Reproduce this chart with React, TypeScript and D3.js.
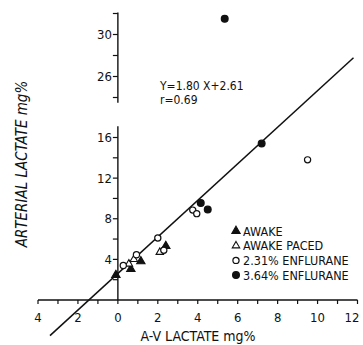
import * as d3 from "d3";

const W = 363;
const H = 345;

// data (A-V lactate, arterial lactate), mg%
const awake: [number, number][] = [[-0.1, 2.45], [0.65, 3.05], [1.15, 3.8], [2.4, 5.3]];
const awakePaced: [number, number][] = [[0.55, 3.55], [0.8, 4.0], [2.1, 4.7]];
const enflurane231: [number, number][] = [[0.27, 3.4], [0.93, 4.45], [2.0, 6.1], [2.3, 4.9], [3.75, 8.85], [3.95, 8.5], [9.5, 13.8]];
const enflurane364: [number, number][] = [[4.15, 9.55], [4.5, 8.9], [7.2, 15.4], [5.35, 31.5]];

const seriesNames = ["AWAKE", "AWAKE PACED", "2.31% ENFLURANE", "3.64% ENFLURANE"];
const seriesShapes = ["triangle", "triangle", "circle", "circle"];
const seriesFilled = [true, false, false, true];
const seriesData = [awake, awakePaced, enflurane231, enflurane364];

const fit = { slope: 1.8, intercept: 2.61, r: 0.69 };
const fitRange = [-3.4, 11.8];

const xTicks = d3.range(-4, 13, 1);
const xLabels = [-4, -2, 0, 2, 4, 6, 8, 10, 12];
const yLowTicks = [2, 4, 6, 8, 10, 12, 14, 16];
const yLowLabels = [4, 8, 12, 16];
const yHighTicks = [24, 26, 28, 30, 32];
const yHighLabels = [26, 30];

const font = "'Liberation Sans Narrow', 'DejaVu Sans Condensed', 'Liberation Sans', sans-serif";
const ink = "#111";

export default function App() {
  const x = d3.scaleLinear().domain([-4, 12]).range([38, 357.5]);
  // broken y axis: lower part 0-17, upper part 23.5-32
  const yLow = d3.scaleLinear().domain([0, 16]).range([300, 137.5]);
  const yHigh = d3.scaleLinear().domain([24, 32]).range([97.5, 13.5]);
  const yPos = (v: number) => (v > 20 ? yHigh(v) : yLow(v));

  const x0 = x(0);
  const tri = d3.symbol(d3.symbolTriangle, 30)()!;
  const triSmall = d3.symbol(d3.symbolTriangle, 24)()!;

  const fitLine = d3
    .line<number>()
    .x((d) => x(d))
    .y((d) => yLow(fit.slope * d + fit.intercept));

  const marker = (i: number, key: string, cx: number, cy: number) =>
    seriesShapes[i] === "triangle" ? (
      <path
        key={key}
        d={seriesFilled[i] ? tri : triSmall}
        transform={`translate(${cx},${cy})`}
        fill={seriesFilled[i] ? ink : "#fff"}
        stroke={ink}
        strokeWidth={1.1}
      />
    ) : (
      <circle
        key={key}
        cx={cx}
        cy={cy}
        r={seriesFilled[i] ? 3.4 : 3.1}
        fill={seriesFilled[i] ? ink : "#fff"}
        stroke={ink}
        strokeWidth={1.2}
      />
    );

  return (
    <div style={{ position: "absolute", left: 0, top: 0 }}>
      <svg width={W} height={H} style={{ display: "block", background: "#fff" }} fontFamily={font}>
        {/* x axis */}
        <line x1={x(-4)} x2={x(12)} y1={yLow(0)} y2={yLow(0)} stroke={ink} strokeWidth={1.4} />
        {xTicks.map((t) => (
          <line key={"xt" + t} x1={x(t)} x2={x(t)} y1={yLow(0)} y2={yLow(0) + 4} stroke={ink} strokeWidth={1.2} />
        ))}
        {xLabels.map((t) => (
          <text key={"xl" + t} x={Math.min(x(t), 352)} y={322} fontSize={13} textAnchor="middle" fill={ink}>
            {Math.abs(t)}
          </text>
        ))}
        <text x={198} y={341} fontSize={14} textAnchor="middle" fill={ink}>
          A-V LACTATE mg%
        </text>

        {/* lower y axis */}
        <line x1={x0} x2={x0} y1={yLow(0)} y2={yLow(17.1)} stroke={ink} strokeWidth={1.4} />
        {yLowTicks.map((t) => (
          <line key={"ylt" + t} x1={x0 - 5} x2={x0} y1={yLow(t)} y2={yLow(t)} stroke={ink} strokeWidth={1.2} />
        ))}
        {yLowLabels.map((t) => (
          <text key={"yll" + t} x={x0 - 6} y={yLow(t) + 4.5} fontSize={13} textAnchor="end" fill={ink}>
            {t}
          </text>
        ))}

        {/* upper y axis */}
        <line x1={x0} x2={x0} y1={yHigh(23.5)} y2={yHigh(32.1)} stroke={ink} strokeWidth={1.4} />
        {yHighTicks.map((t) => (
          <line key={"yht" + t} x1={x0 - 5} x2={x0} y1={yHigh(t)} y2={yHigh(t)} stroke={ink} strokeWidth={1.2} />
        ))}
        {yHighLabels.map((t) => (
          <text key={"yhl" + t} x={x0 - 6} y={yHigh(t) + 4.5} fontSize={13} textAnchor="end" fill={ink}>
            {t}
          </text>
        ))}

        <text
          transform={`translate(27,164) rotate(-90)`}
          fontSize={15}
          fontStyle="italic"
          textAnchor="middle"
          fill={ink}
        >
          ARTERIAL LACTATE mg%
        </text>

        {/* regression line */}
        <path d={fitLine(fitRange) ?? ""} fill="none" stroke={ink} strokeWidth={1.5} />
        <text x={160} y={90} fontSize={12} fill={ink}>
          {`Y=${fit.slope.toFixed(2)} X+${fit.intercept.toFixed(2)}`}
        </text>
        <text x={160} y={104} fontSize={12} fill={ink}>
          {`r=${fit.r.toFixed(2)}`}
        </text>

        {/* points */}
        {seriesData.map((pts, i) =>
          pts.map((p, j) => marker(i, `p${i}-${j}`, x(p[0]), yPos(p[1])))
        )}

        {/* legend */}
        {seriesNames.map((name, i) => {
          const ly = 231 + i * 14.7;
          return (
            <g key={"lg" + i}>
              {marker(i, "lm" + i, 236, ly)}
              <text x={243} y={ly + 4.5} fontSize={12.5} fill={ink}>
                {name}
              </text>
            </g>
          );
        })}
      </svg>
    </div>
  );
}
